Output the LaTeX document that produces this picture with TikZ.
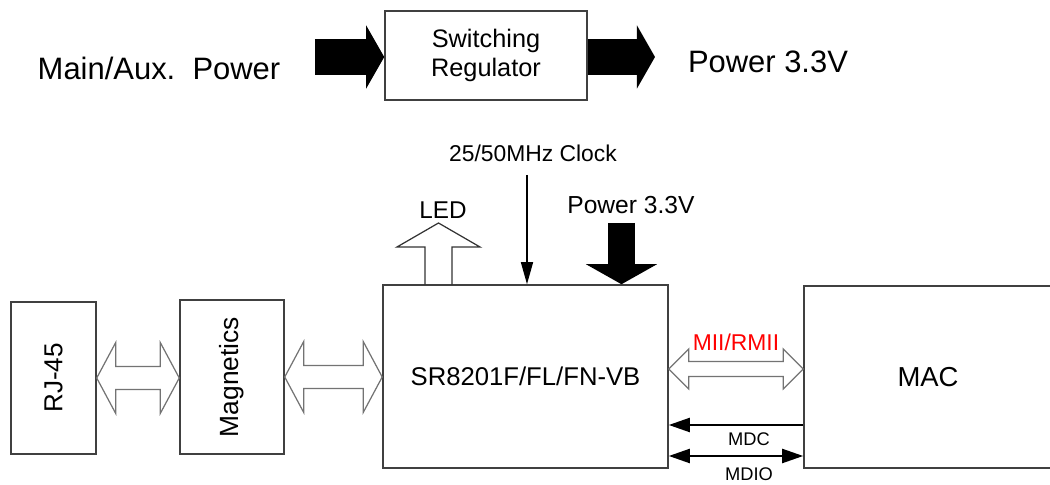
\documentclass[tikz,border=0pt]{standalone}
\usepackage{fontspec}
\setmainfont{Liberation Sans}
\usetikzlibrary{arrows.meta,calc}

\tikzset{
  box/.style={draw=black!75, line width=0.4pt, inner sep=0pt},
  hollow/.style={draw=black!55, line width=0.35pt, line join=miter},
  fat/.style={line width=0.36cm, -{Triangle[length=0.18cm, width=0.63cm, line width=0pt]}},
  thin/.style={line width=0.6pt, -{Triangle[length=0.21cm, width=0.14cm]}},
  bigtxt/.style={font=\fontsize{8.8}{10}\selectfont},
  midtxt/.style={font=\fontsize{7.3}{8.6}\selectfont},
  smalltxt/.style={font=\fontsize{6.5}{7.5}\selectfont},
  tinytxt/.style={font=\fontsize{5.2}{6}\selectfont}
}

% hollow double arrow between two points: head length, head half width, shaft half width
\newcommand{\hollowlink}[5]{%
  \draw[hollow] let \p1=#1, \p2=#2 in
    (\x1,\y1) -- (\x1+#3,\y1+#4) -- (\x1+#3,\y1+#5) -- (\x2-#3,\y1+#5)
    -- (\x2-#3,\y1+#4) -- (\x2,\y1) -- (\x2-#3,\y1-#4) -- (\x2-#3,\y1-#5)
    -- (\x1+#3,\y1-#5) -- (\x1+#3,\y1-#4) -- cycle;}

\begin{document}
\begin{tikzpicture}[x=0.01cm, y=-0.01cm]
  \useasboundingbox (0,0) rectangle (1050,485);

  % power supply
  \node[bigtxt] (mainaux) at (159,68) {Main/Aux.\ \ Power};
  \node[box, midtxt, align=center, font=\fontsize{7.2}{8.5}\selectfont,
        minimum width=2.02cm, minimum height=0.89cm] (reg) at (486,55.5) {Switching\\Regulator};
  \node[bigtxt] (pwrtop) at (768,62) {Power 3.3V};
  \coordinate (mainin) at (315,57);
  \coordinate (pwrout) at (655,57);
  \draw[fat] (mainin) -- (reg.west |- mainin);
  \draw[fat] (reg.east |- pwrout) -- (pwrout);

  % blocks
  \node[box, minimum width=0.85cm, minimum height=1.52cm] (rj) at (53.5,378)
    {\rotatebox{90}{\fontsize{7.4}{8}\selectfont RJ-45}};
  \node[box, minimum width=1.04cm, minimum height=1.54cm] (mag) at (232,377)
    {\rotatebox{90}{\fontsize{7.5}{8}\selectfont Magnetics}};
  \node[box, midtxt, minimum width=2.85cm, minimum height=1.83cm] (phy) at (525.5,376.5)
    {SR8201F/FL/FN-VB};
  \node[box, minimum width=2.48cm, minimum height=1.82cm, font=\fontsize{7.8}{9}\selectfont]
    (mac) at (928,377) {MAC};

  % hollow links
  \hollowlink{(rj.east)}{(mag.west)}{0.19cm}{0.355cm}{0.115cm}
  \hollowlink{(mag.east)}{(phy.west)}{0.19cm}{0.355cm}{0.115cm}
  \coordinate (miiy) at (0,369);
  \hollowlink{(phy.east |- miiy)}{(mac.west |- miiy)}{0.20cm}{0.20cm}{0.075cm}
  \node[smalltxt, text=red] (mii) at (736,342) {MII/RMII};

  % management
  \coordinate (mdcy) at (0,425);
  \coordinate (mdioy) at (0,456);
  \draw[thin] (mac.west |- mdcy) -- (phy.east |- mdcy);
  \draw[thin, {Triangle[length=0.21cm, width=0.14cm]}-{Triangle[length=0.21cm, width=0.14cm]}]
    (phy.east |- mdioy) -- (mac.west |- mdioy);
  \node[tinytxt] (mdc) at (749,439) {MDC};
  \node[tinytxt] (mdio) at (749,474) {MDIO};

  % clock
  \coordinate (clk) at (527,175);
  \draw[line width=0.4pt, -{Triangle[length=0.22cm, width=0.12cm]}] (clk) -- (clk |- phy.north);
  \node[smalltxt] (clklabel) at (533,153) {25/50MHz Clock};

  % LED
  \draw[hollow, draw=black!80] (425,285) -- (425,247) -- (397,247) -- (438.5,223)
    -- (480,247) -- (452,247) -- (452,285);
  \node[font=\fontsize{6.9}{8}\selectfont] (led) at (443,210) {LED};

  % power in
  \coordinate (pwr) at (621.5,223);
  \draw[line width=0.27cm, -{Triangle[length=0.20cm, width=0.71cm, line width=0pt]}]
    (pwr) -- (pwr |- phy.north);
  \node[font=\fontsize{7}{8}\selectfont] (pwrlabel) at (631,205) {Power 3.3V};
\end{tikzpicture}
\end{document}
